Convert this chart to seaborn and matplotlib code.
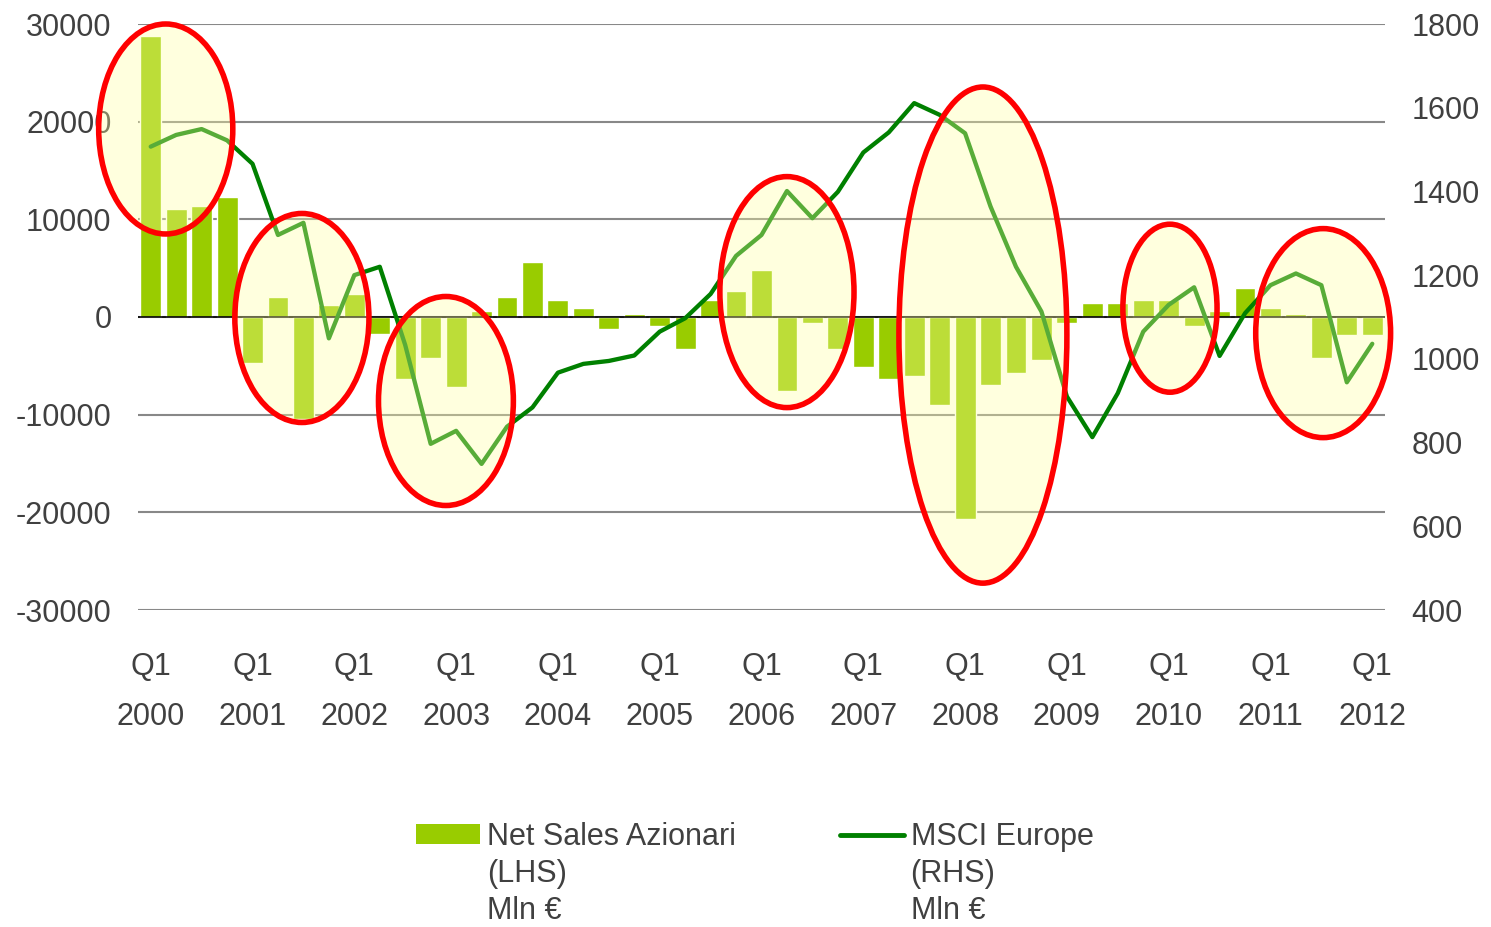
import matplotlib
matplotlib.use("Agg")
import matplotlib.pyplot as plt
import numpy as np
import seaborn as sns
from matplotlib.patches import Ellipse, Patch
from matplotlib.lines import Line2D
from matplotlib.transforms import IdentityTransform

# quarterly data, Q1 2000 .. Q1 2012
years = [str(y) for y in range(2000, 2013)]
net_sales = [28800, 11050, 11350, 12300, -4750, 2050, -10450, 1250, 2350, -1750,
             -6300, -4150, -7150, 600, 2050, 5650, 1750, 900, -1250, 300,
             -900, -3250, 1750, 2650, 4800, -7550, -600, -3250, -5100, -6300,
             -6000, -9000, -20650, -6950, -5700, -4450, -600, 1450, 1450, 1750,
             1750, -900, 600, 2950, 900, 300, -4150, -1800, -1800]
msci = [1507, 1535, 1549, 1522, 1466, 1296, 1325, 1049, 1200, 1220,
        1033, 797, 828, 749, 838, 884, 967, 988, 995, 1008,
        1065, 1097, 1155, 1246, 1296, 1401, 1336, 1399, 1493, 1541,
        1611, 1583, 1539, 1364, 1220, 1113, 910, 813, 918, 1065,
        1129, 1171, 1007, 1109, 1176, 1204, 1176, 944, 1036]
left_ticks = [-30000, -20000, -10000, 0, 10000, 20000, 30000]
right_ticks = [400, 600, 800, 1000, 1200, 1400, 1600, 1800]

# highlighted periods: (centre quarter, centre value LHS, width in quarters, height LHS)
highlights = [(0.59, 19250, 5.27, 21500),
              (5.94, -100, 5.27, 21400),
              (11.6, -8600, 5.3, 21400),
              (25.0, 2550, 5.27, 23650),
              (32.7, -1850, 6.6, 50800),
              (40.05, 900, 3.7, 17200),
              (46.07, -1650, 5.3, 21400)]

sns.set_theme(style="white")
plt.rcParams['font.family'] = ['Liberation Sans', 'DejaVu Sans']
plt.rcParams['axes.unicode_minus'] = False
txt_col = '#404040'
fs = 22

fig = plt.figure(figsize=(14.91, 9.27), dpi=100)
ax = fig.add_axes([138 / 1491, 1 - 610 / 927, (1385 - 138) / 1491, (610 - 24) / 927])

idx = np.arange(len(net_sales))
sns.barplot(x=idx, y=net_sales, color='#99CC00', saturation=1, width=0.82, ax=ax)
ax.set_ylim(-30000, 30000)
ax.set_yticks(left_ticks)
ax.set_yticklabels([str(t) for t in left_ticks])
ax.set_axisbelow(True)
ax.yaxis.grid(True, color='#888888', lw=1.5)
ax.axhline(0, color='black', lw=1.2, zorder=3)

ax.set_xticks(idx[::4])
ax.set_xticklabels(['Q1\n' + y for y in years], linespacing=1.9)
ax.set_xlim(-0.5, len(net_sales) - 0.5)
ax.tick_params(axis='x', length=0, pad=30, labelsize=fs, labelcolor=txt_col)
ax.tick_params(axis='y', length=0, pad=19, labelsize=fs, labelcolor=txt_col)
for s in ax.spines.values():
    s.set_visible(False)
ax.set_xlabel('')
ax.set_ylabel('')

ax2 = ax.twinx()
sns.lineplot(x=idx, y=msci, color='#008000', lw=3.1, ax=ax2)
ax2.set_ylim(400, 1800)
ax2.set_yticks(right_ticks)
ax2.set_yticklabels([str(t) for t in right_ticks])
ax2.tick_params(axis='y', length=0, pad=19, labelsize=fs, labelcolor=txt_col)
ax2.set_xlim(-0.5, len(net_sales) - 0.5)
for s in ax2.spines.values():
    s.set_visible(False)
ax2.set_ylabel('')

for cx, cy, w, h in highlights:
    e = Ellipse((cx, cy), w, h, transform=ax.transData,
                facecolor=(1, 1, 0.63, 0.35), edgecolor='#FF0000',
                lw=4, zorder=10, clip_on=False)
    ax2.add_patch(e)

handles = [Patch(facecolor='#99CC00', edgecolor='none'),
           Line2D([], [], color='#008000', lw=3.5)]
leg = fig.legend(handles, ['Net Sales Azionari', 'MSCI Europe'],
                 loc='upper left', bbox_to_anchor=(416 / 1491, 1 - 822 / 927),
                 ncol=2, frameon=False, fontsize=fs, handlelength=2.1,
                 handleheight=0.65, handletextpad=0.22, columnspacing=3.4,
                 borderpad=0, borderaxespad=0)
for t in leg.get_texts():
    t.set_color(txt_col)

fig.canvas.draw()
extra = [['(LHS)', 'Mln €'], ['(RHS)', 'Mln €']]
for t, lines in zip(leg.get_texts(), extra):
    bb = t.get_window_extent()
    for k, line in enumerate(lines):
        fig.text(bb.x0, bb.y0 - 37 * (k + 1), line, transform=IdentityTransform(),
                 va='bottom', ha='left', fontsize=fs, color=txt_col)

fig.savefig('out.png', dpi=100)
